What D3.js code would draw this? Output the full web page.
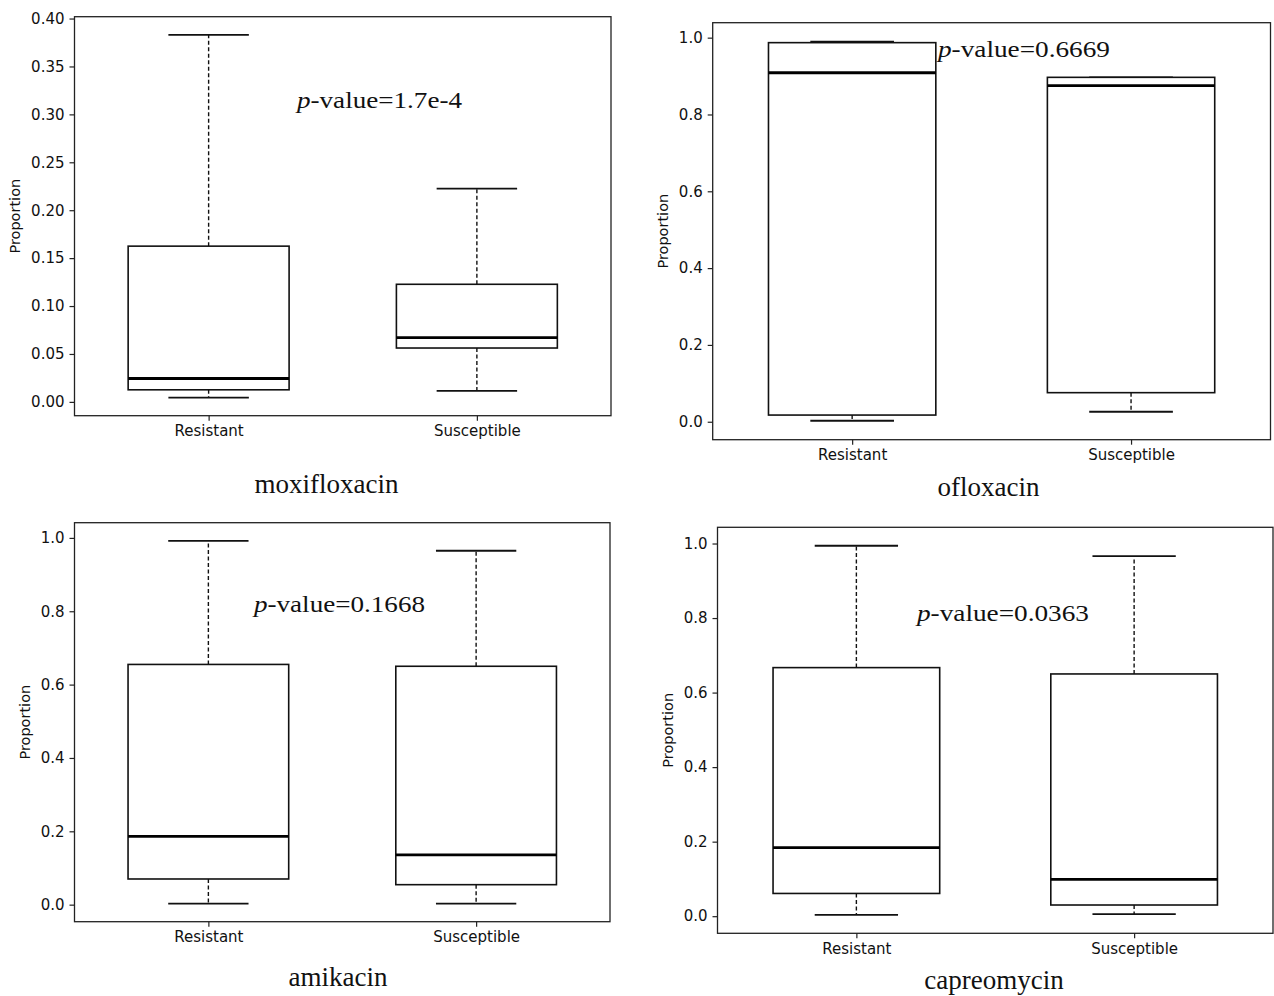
<!DOCTYPE html>
<html>
<head>
<meta charset="utf-8">
<script src="https://cdn.jsdelivr.net/npm/d3@7"></script>
<style>
  body { margin: 0; background: #fff; }
  .tick text { font-family: "DejaVu Sans", sans-serif; font-size: 15px; fill: #111; }
  .tick line { stroke: #222; stroke-width: 1.2; }
</style>
</head>
<body>
<svg id="chart" width="1274" height="996"></svg>
<script>
// data: [lower whisker, Q1, median, Q3, upper whisker]
var categories = ["Resistant", "Susceptible"];
var drugs = ["moxifloxacin", "ofloxacin", "amikacin", "capreomycin"];
var pValues = ["1.7e-4", "0.6669", "0.1668", "0.0363"];

var moxifloxacinStats = [[0.0045, 0.0126, 0.0244, 0.1625, 0.383], [0.0115, 0.0562, 0.067, 0.1227, 0.2225]];
var ofloxacinStats = [[0.0026, 0.0174, 0.9087, 0.987, 0.9896], [0.026, 0.0757, 0.875, 0.8967, 0.8967]];
var amikacinStats = [[0.003, 0.070, 0.186, 0.655, 0.992], [0.003, 0.0545, 0.136, 0.650, 0.965]];
var capreomycinStats = [[0.0036, 0.061, 0.184, 0.667, 0.994], [0.0054, 0.030, 0.099, 0.650, 0.966]];

var moxifloxacinTicks = [0, 0.05, 0.10, 0.15, 0.20, 0.25, 0.30, 0.35, 0.40];
var proportionTicks = [0, 0.2, 0.4, 0.6, 0.8, 1.0];

var statsByDrug = [moxifloxacinStats, ofloxacinStats, amikacinStats, capreomycinStats];
var ticksByDrug = [moxifloxacinTicks, proportionTicks, proportionTicks, proportionTicks];
var formatByDrug = [".2f", ".1f", ".1f", ".1f"];

// where each panel sits on the page
var panels = [
  {left: 74.5, top: 16.7, right: 611, bottom: 415.7, pX: 297, pY: 108.3, pW: 165, tX: 326.5, tY: 493},
  {left: 712.7, top: 22.7, right: 1270.5, bottom: 439.7, pX: 938, pY: 56.7, pW: 172, tX: 988.5, tY: 495.7},
  {left: 74.5, top: 522.7, right: 610, bottom: 921.7, pX: 254, pY: 611.7, pW: 171, tX: 338, tY: 986},
  {left: 717.5, top: 527.3, right: 1273, bottom: 933.3, pX: 917, pY: 620.7, pW: 172, tX: 994, tY: 989.3}
];

var svg = d3.select("#chart");

drugs.forEach(function(drug, i) {
  var p = panels[i];
  var stats = statsByDrug[i];
  var width = p.right - p.left,
      height = p.bottom - p.top;

  var g = svg.append("g")
    .attr("transform", "translate(" + p.left + "," + p.top + ")");

  // y domain padded by 5% like matplotlib
  var lo = d3.min(stats, function(d) { return d[0]; }),
      hi = d3.max(stats, function(d) { return d[4]; }),
      pad = (hi - lo) * 0.05;

  var y = d3.scaleLinear()
    .domain([lo - pad, hi + pad])
    .range([height, 0]);

  var x = d3.scalePoint()
    .domain(categories)
    .range([0, width])
    .padding(0.5);

  var boxW = x.step() * 0.6;

  var yAxis = g.append("g")
    .call(d3.axisLeft(y).tickValues(ticksByDrug[i]).tickFormat(d3.format(formatByDrug[i]))
      .tickSize(5).tickPadding(5).tickSizeOuter(0));
  yAxis.select(".domain").remove();

  var xAxis = g.append("g")
    .attr("transform", "translate(0," + height + ")")
    .call(d3.axisBottom(x).tickSize(5).tickPadding(5).tickSizeOuter(0));
  xAxis.select(".domain").remove();

  // frame
  g.append("rect")
    .attr("width", width)
    .attr("height", height)
    .attr("fill", "none")
    .attr("stroke", "#222")
    .attr("stroke-width", 1.3);

  var bb = yAxis.node().getBBox();
  g.append("text")
    .attr("transform", "translate(" + (bb.x - 11) + "," + (height / 2) + ") rotate(-90)")
    .attr("text-anchor", "middle")
    .style("font-family", "DejaVu Sans, sans-serif")
    .style("font-size", "14.5px")
    .style("fill", "#111")
    .text("Proportion");

  var boxes = g.selectAll(".box")
    .data(stats)
    .enter()
    .append("g")
    .attr("class", "box")
    .attr("transform", function(d, j) { return "translate(" + x(categories[j]) + ",0)"; });

  // whiskers
  boxes.append("line")
    .attr("y1", function(d) { return y(d[3]); })
    .attr("y2", function(d) { return y(d[4]); })
    .attr("stroke", "#111").attr("stroke-width", 1.4).attr("stroke-dasharray", "4,2.5");
  boxes.append("line")
    .attr("y1", function(d) { return y(d[1]); })
    .attr("y2", function(d) { return y(d[0]); })
    .attr("stroke", "#111").attr("stroke-width", 1.4).attr("stroke-dasharray", "4,2.5");

  // caps
  [0, 4].forEach(function(k) {
    boxes.append("line")
      .attr("x1", -boxW / 4).attr("x2", boxW / 4)
      .attr("y1", function(d) { return y(d[k]); })
      .attr("y2", function(d) { return y(d[k]); })
      .attr("stroke", "#111").attr("stroke-width", 1.8);
  });

  boxes.append("rect")
    .attr("x", -boxW / 2)
    .attr("width", boxW)
    .attr("y", function(d) { return y(d[3]); })
    .attr("height", function(d) { return y(d[1]) - y(d[3]); })
    .attr("fill", "#fff")
    .attr("stroke", "#111")
    .attr("stroke-width", 1.6);

  boxes.append("line")
    .attr("x1", -boxW / 2).attr("x2", boxW / 2)
    .attr("y1", function(d) { return y(d[2]); })
    .attr("y2", function(d) { return y(d[2]); })
    .attr("stroke", "#000")
    .attr("stroke-width", 2.8);

  // p-value annotation
  var pt = svg.append("text")
    .attr("x", p.pX)
    .attr("y", p.pY)
    .attr("textLength", p.pW)
    .attr("lengthAdjust", "spacingAndGlyphs")
    .style("font-family", "Liberation Serif, Times New Roman, serif")
    .style("font-size", "24px")
    .style("fill", "#111");
  pt.append("tspan").style("font-style", "italic").text("p");
  pt.append("tspan").text("-value=" + pValues[i]);

  // drug name under the panel
  svg.append("text")
    .attr("x", p.tX)
    .attr("y", p.tY)
    .attr("text-anchor", "middle")
    .style("font-family", "Liberation Serif, Times New Roman, serif")
    .style("font-size", "27px")
    .style("fill", "#111")
    .text(drug);
});
</script>
</body>
</html>
